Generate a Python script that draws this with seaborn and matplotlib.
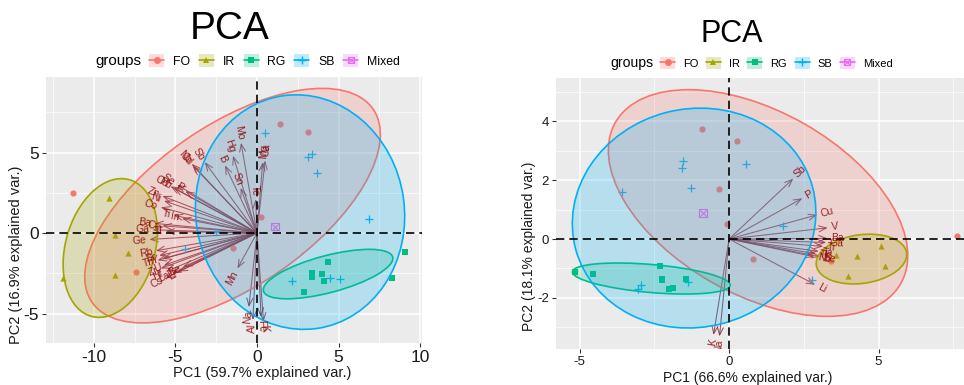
import matplotlib
matplotlib.use("Agg")
import matplotlib.pyplot as plt
import numpy as np
import pandas as pd
import seaborn as sns
from matplotlib.patches import Ellipse, Patch
from matplotlib.lines import Line2D

GROUPS = ["FO", "IR", "RG", "SB", "Mixed"]
COLORS = {"FO": "#F8766D", "IR": "#A3A500", "RG": "#00BF7D", "SB": "#00B0F6", "Mixed": "#E76BF3"}
MARKERS = {"FO": "o", "IR": "^", "RG": "s", "SB": "+", "Mixed": "s"}

# ---- left panel: scores ----
left_fo_x = [-11.3, 1.4, 3.1, 0.25, -1.5, -7.4]
left_fo_y = [2.5, 6.8, 6.3, 1.0, -0.9, -2.4]
left_ir_x = [-9.1, -8.7, -7.9, -8.7, -11.9]
left_ir_y = [2.2, -0.1, -1.25, -2.6, -2.8]
left_rg_x = [4.36, 3.37, 3.37, 3.99, 4.11, 2.88, 9.08, 8.28]
left_rg_y = [-1.8, -2.5, -2.7, -2.55, -2.98, -3.66, -1.18, -2.8]
left_sb_x = [3.1, 3.4, 3.7, 6.9, 0.5, 2.15, 4.5, 5.1, -4.4, -2.5]
left_sb_y = [4.7, 4.9, 3.7, 0.85, 6.2, -3.0, -2.8, -2.85, -1.0, 0.05]
left_mx_x = [1.1]
left_mx_y = [0.4]

# ---- left panel: loadings ----
left_var = ["Sb", "Nb", "Cd", "Hg", "Mo", "B", "Sn", "Te", "Mg", "Ca",
            "Cu", "Se", "Pb", "P", "Zn", "Ni", "Co", "Ti", "In", "Ba",
            "Cr", "Ga", "Tl", "Ge", "Rb", "Sr", "Th", "Y", "U", "Zr",
            "Hf", "Cs", "La", "Li", "Be", "Mn", "Na", "Al", "K", "Fe"]
left_var_x = [-3.2, -4.0, -3.9, -1.47, -0.98, -1.96, -1.0, -0.08, 0.35, 0.5,
              -5.3, -4.9, -5.1, -4.4, -5.8, -5.7, -5.9, -5.1, -4.6, -6.3,
              -5.8, -6.4, -5.6, -6.6, -6.2, -6.0, -6.1, -5.8, -5.7, -5.9,
              -5.6, -5.6, -5.2, -4.8, -4.5, -1.2, -0.5, -0.25, 0.4, 0.25]
left_var_y = [4.4, 4.3, 4.15, 4.8, 5.6, 4.2, 2.8, 2.1, 4.4, 4.5,
              2.9, 3.0, 2.8, 2.6, 2.3, 2.0, 1.6, 1.1, 0.9, 0.6,
              0.45, 0.2, 0.1, -0.4, -1.1, -1.4, -1.7, -1.6, -2.0, -2.2,
              -2.4, -2.8, -2.5, -2.4, -2.1, -2.2, -4.6, -5.4, -5.5, -5.2]

# ---- left panel: ellipses (group, cx, cy, width, height, angle) ----
left_ell_group = ["FO", "IR", "RG", "SB"]
left_ell_cx = [-1.5, -9.0, 4.36, 2.64]
left_ell_cy = [1.7, -0.93, -2.55, 1.3]
left_ell_w = [21.0, 5.5, 8.2, 12.8]
left_ell_h = [10.0, 8.8, 2.3, 14.6]
left_ell_ang = [35, -15, 15, 8]

# ---- right panel: scores ----
right_fo_x = [-0.9, 0.27, -0.33, -0.07, 0.8, 7.63, 3.4]
right_fo_y = [3.73, 3.32, 1.69, 0.51, -0.68, 0.1, -0.75]
right_ir_x = [5.08, 4.28, 5.22, 3.98, 3.58]
right_ir_y = [-0.24, -0.58, -0.92, -1.25, -0.54]
right_rg_x = [-5.15, -4.55, -2.31, -2.24, -2.25, -1.44, -2.0, -1.87]
right_rg_y = [-1.12, -1.19, -0.92, -1.36, -1.4, -1.36, -1.7, -1.66]
right_sb_x = [-1.54, -1.57, 0.57, -1.27, -3.58, 1.81, -2.94, -3.04, -1.37, 2.78]
right_sb_y = [2.64, 2.41, 2.54, 1.73, 1.59, 0.44, -1.56, -1.69, -1.46, -1.39]
right_mx_x = [-0.87]
right_mx_y = [0.88]

# ---- right panel: loadings ----
right_var = ["Sb", "P", "Cu", "V", "Ba", "Ga", "Ti", "Ta", "Tl", "Nb", "Se", "Li", "K", "Na"]
right_var_x = [2.15, 2.45, 2.95, 3.3, 3.3, 3.25, 3.15, 3.0, 2.9, 2.85, 3.05, 2.88, -0.52, -0.32]
right_var_y = [2.05, 1.38, 0.82, 0.38, 0.02, -0.12, -0.25, -0.42, -0.5, -0.6, -0.6, -1.55, -3.25, -3.3]

# ---- right panel: ellipses ----
right_ell_group = ["FO", "IR", "RG", "SB"]
right_ell_cx = [0.97, 4.43, -2.6, -1.17]
right_ell_cy = [1.22, -0.68, -1.34, 0.71]
right_ell_w = [11.0, 3.05, 5.3, 8.2]
right_ell_h = [6.2, 1.65, 0.95, 7.4]
right_ell_ang = [-30, 8, -5, 15]


def scores_frame(fo, ir, rg, sb, mx):
    rows = []
    for g, (xs, ys) in zip(GROUPS, [fo, ir, rg, sb, mx]):
        for x, y in zip(xs, ys):
            rows.append({"PC1": x, "PC2": y, "group": g})
    return pd.DataFrame(rows)


left_df = scores_frame((left_fo_x, left_fo_y), (left_ir_x, left_ir_y), (left_rg_x, left_rg_y),
                       (left_sb_x, left_sb_y), (left_mx_x, left_mx_y))
right_df = scores_frame((right_fo_x, right_fo_y), (right_ir_x, right_ir_y), (right_rg_x, right_rg_y),
                        (right_sb_x, right_sb_y), (right_mx_x, right_mx_y))

sns.set_theme(style="darkgrid", rc={"axes.facecolor": "#EBEBEB", "grid.color": "white"})
plt.rcParams["font.family"] = ["Liberation Sans", "DejaVu Sans"]
plt.rcParams["axes.unicode_minus"] = False
plt.rcParams["text.color"] = "black"


def draw_panel(ax, df, names, vx, vy, ell, xlim, ylim, xticks, yticks, xminor, yminor,
               tick_size, lab_size):
    # loadings arrows
    for x, y in zip(vx, vy):
        ax.annotate("", xy=(x, y), xytext=(0, 0),
                    arrowprops=dict(arrowstyle="->,head_length=0.45,head_width=0.18",
                                    color="#7A2535", lw=0.75, alpha=0.8, shrinkA=0, shrinkB=0),
                    zorder=2)
    # points
    for g in GROUPS:
        sub = df[df["group"] == g]
        c = COLORS[g]
        if g == "SB":
            sns.scatterplot(data=sub, x="PC1", y="PC2", marker="+", color=c, s=30,
                            linewidth=0.9, ax=ax, legend=False, zorder=3)
        elif g == "Mixed":
            sns.scatterplot(data=sub, x="PC1", y="PC2", marker="s", facecolor="none",
                            edgecolor=c, s=28, linewidth=0.8, ax=ax, legend=False, zorder=3)
            sns.scatterplot(data=sub, x="PC1", y="PC2", marker="x", color=c, s=20,
                            linewidth=0.8, ax=ax, legend=False, zorder=3)
        else:
            sns.scatterplot(data=sub, x="PC1", y="PC2", marker=MARKERS[g], color=c,
                            edgecolor=c, s=20, linewidth=0, ax=ax, legend=False, zorder=3)
    # ellipses
    for g, cx, cy, w, h, a in zip(*ell):
        c = COLORS[g]
        e = Ellipse((cx, cy), w, h, angle=a, facecolor=matplotlib.colors.to_rgba(c, 0.22),
                    edgecolor=c, lw=1.2, zorder=4)
        ax.add_patch(e)
    ax.axhline(0, color="black", ls=(0, (5, 3)), lw=1.2, zorder=4.5)
    ax.axvline(0, color="black", ls=(0, (5, 3)), lw=1.2, zorder=4.5)
    # variable names
    for n, x, y in zip(names, vx, vy):
        ang = np.degrees(np.arctan(y / x))
        d = np.sign(x) * np.array([np.cos(np.radians(ang)), np.sin(np.radians(ang))]) * 2.5
        ax.annotate(n, xy=(x, y), xytext=(d[0], d[1]), textcoords="offset points",
                    rotation=ang, rotation_mode="anchor",
                    ha="left" if x > 0 else "right", va="center",
                    fontsize=lab_size, color="#8B0000", alpha=0.85,
                    annotation_clip=False, clip_on=True, zorder=6)
    ax.set_xlim(*xlim)
    ax.set_ylim(*ylim)
    ax.set_xticks(xticks)
    ax.set_yticks(yticks)
    ax.set_xticks(xminor, minor=True)
    ax.set_yticks(yminor, minor=True)
    ax.grid(which="major", color="white", lw=1.1)
    ax.grid(which="minor", color="white", lw=0.5)
    ax.tick_params(which="major", bottom=True, left=True, length=3, width=0.8,
                   color="#333333", labelsize=tick_size, labelcolor="#1a1a1a", pad=2)
    ax.tick_params(which="minor", length=0)
    for s in ax.spines.values():
        s.set_visible(False)


fig = plt.figure(figsize=(9.64, 3.85), dpi=100)
ax1 = fig.add_axes([46 / 964, 1 - 343 / 385, 376 / 964, 266 / 385])
ax2 = fig.add_axes([556 / 964, 1 - 349 / 385, 408 / 964, 271 / 385])

draw_panel(ax1, left_df, left_var, left_var_x, left_var_y,
           (left_ell_group, left_ell_cx, left_ell_cy, left_ell_w, left_ell_h, left_ell_ang),
           (-12.94, 10.12), (-6.83, 9.69), [-10, -5, 0, 5, 10], [-5, 0, 5],
           [-12.5, -7.5, -2.5, 2.5, 7.5], [-2.5, 2.5, 7.5], 12.5, 7.5)
draw_panel(ax2, right_df, right_var, right_var_x, right_var_y,
           (right_ell_group, right_ell_cx, right_ell_cy, right_ell_w, right_ell_h, right_ell_ang),
           (-5.79, 7.86), (-3.73, 5.46), [-5, 0, 5], [-2, 0, 2, 4],
           [-2.5, 2.5, 7.5], [-3, -1, 1, 3, 5], 9.5, 7.5)

ax1.set_xlabel("PC1 (59.7% explained var.)", fontsize=10.5, color="#1a1a1a")
ax1.set_ylabel("PC2 (16.9% explained var.)", fontsize=10.5, color="#1a1a1a")
ax1.xaxis.set_label_coords(0.574, -0.085)
ax1.yaxis.set_label_coords(-0.08, 0.331)
ax2.set_xlabel("PC1 (66.6% explained var.)", fontsize=10, color="#1a1a1a")
ax2.set_ylabel("PC2 (18.1% explained var.)", fontsize=10, color="#1a1a1a")
ax2.xaxis.set_label_coords(0.47, -0.08)
ax2.yaxis.set_label_coords(-0.066, 0.38)
ax1.xaxis.label.set_va("top")
ax2.xaxis.label.set_va("top")
ax1.yaxis.label.set_va("center")
ax2.yaxis.label.set_va("center")

fig.text(230 / 964, 1 - 29 / 385, "PCA", fontsize=28, ha="center", va="center", color="black")
fig.text(732 / 964, 1 - 34 / 385, "PCA", fontsize=22, ha="center", va="center", color="black")


def legend_handles():
    hs = []
    for g in GROUPS:
        c = COLORS[g]
        box = Patch(facecolor=matplotlib.colors.to_rgba(c, 0.25), edgecolor="none")
        if g == "Mixed":
            ln = Line2D([], [], color=c, lw=1.2, marker="s", mfc="none", mec=c, ms=5, mew=0.8)
            ln2 = Line2D([], [], color=c, lw=0, marker="x", ms=4, mew=0.8)
            hs.append((box, ln, ln2))
        elif g == "SB":
            hs.append((box, Line2D([], [], color=c, lw=1.2, marker="+", ms=6, mew=1.0)))
        else:
            hs.append((box, Line2D([], [], color=c, lw=1.2, marker=MARKERS[g], ms=5, mew=0)))
    return hs


fig.text(95 / 964, 1 - 61 / 385, "groups", fontsize=10.8, ha="left", va="center", color="black")
fig.legend(legend_handles(), GROUPS, loc="center left", bbox_to_anchor=(149 / 964, 1 - 61 / 385),
           ncol=5, frameon=False, borderpad=0, borderaxespad=0, handlelength=1.23,
           handleheight=1.23, handletextpad=0.72, columnspacing=0.72, fontsize=8.8)
fig.text(610 / 964, 1 - 63 / 385, "groups", fontsize=10.1, ha="left", va="center", color="black")
fig.legend(legend_handles(), GROUPS, loc="center left", bbox_to_anchor=(660 / 964, 1 - 63 / 385),
           ncol=5, frameon=False, borderpad=0, borderaxespad=0, handlelength=1.35,
           handleheight=1.35, handletextpad=0.7, columnspacing=0.7, fontsize=8)

fig.savefig("out.png", dpi=100)
